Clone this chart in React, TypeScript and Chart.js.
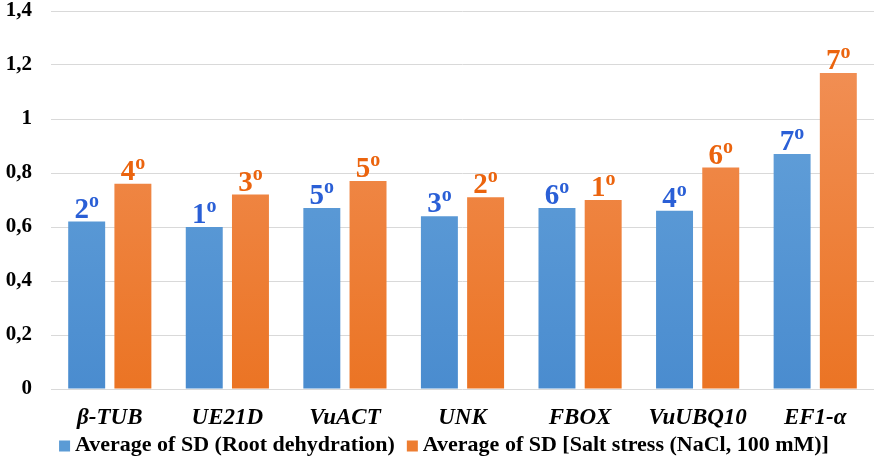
import React, { useEffect, useRef } from "react";
import { Chart, registerables } from "chart.js";

Chart.register(...registerables);

const categories = ["β-TUB", "UE21D", "VuACT", "UNK", "FBOX", "VuUBQ10", "EF1-α"];
const rootDehydration = [0.62, 0.6, 0.67, 0.64, 0.67, 0.66, 0.87];
const saltStress = [0.76, 0.72, 0.77, 0.71, 0.7, 0.82, 1.17];
const rootRanks = ["2", "1", "5", "3", "6", "4", "7"];
const saltRanks = ["4", "3", "5", "2", "1", "6", "7"];
const seriesNames = [
  "Average of SD (Root dehydration)",
  "Average of SD [Salt stress (NaCl, 100 mM)]",
];
const seriesColors = ["#5b9bd5", "#ed7d31"];
const rankColors = ["#2a5fd6", "#eb640e"];

const FONT = "'Liberation Serif', 'Times New Roman', serif";

const rankLabelPlugin = {
  id: "rankLabels",
  afterDatasetsDraw(chart: any) {
    const ctx = chart.ctx;
    const rankSets = [rootRanks, saltRanks];
    chart.data.datasets.forEach((_ds: any, di: number) => {
      const meta = chart.getDatasetMeta(di);
      meta.data.forEach((bar: any, i: number) => {
        const digit = rankSets[di][i];
        ctx.save();
        ctx.fillStyle = rankColors[di];
        ctx.textBaseline = "alphabetic";
        ctx.font = `bold 29px ${FONT}`;
        const dw = ctx.measureText(digit).width;
        ctx.font = `bold 20px ${FONT}`;
        const ow = ctx.measureText("o").width;
        const total = dw + ow;
        const x0 = bar.x - total / 2;
        const base = bar.y - 4;
        ctx.font = `bold 29px ${FONT}`;
        ctx.textAlign = "left";
        ctx.fillText(digit, x0, base);
        ctx.font = `bold 20px ${FONT}`;
        ctx.fillText("o", x0 + dw, base - 11);
        ctx.restore();
      });
    });
  },
};

const legendPlugin = {
  id: "customLegend",
  afterDraw(chart: any) {
    const ctx = chart.ctx;
    ctx.save();
    ctx.font = `bold 22px ${FONT}`;
    const box = 11;
    const gap = 5;
    const itemGap = 12;
    const widths = seriesNames.map((t) => ctx.measureText(t).width);
    const total = widths.reduce((a, w) => a + box + gap + w, 0) + itemGap * (seriesNames.length - 1);
    let x = chart.width / 2 + 7 - total / 2;
    const y = 445;
    ctx.textBaseline = "middle";
    ctx.textAlign = "left";
    seriesNames.forEach((t, i) => {
      ctx.fillStyle = seriesColors[i];
      ctx.fillRect(x, y - box / 2 + 1, box, box);
      x += box + gap;
      ctx.fillStyle = "#000";
      ctx.fillText(t, x, y);
      x += widths[i] + itemGap;
    });
    ctx.restore();
  },
};

function gradient(ctx: any, top: string, bottom: string) {
  const chart = ctx.chart;
  const area = chart.chartArea;
  if (!area) return bottom;
  const g = chart.ctx.createLinearGradient(0, area.top, 0, area.bottom);
  g.addColorStop(0, top);
  g.addColorStop(1, bottom);
  return g;
}

export default function App() {
  const ref = useRef<HTMLCanvasElement | null>(null);
  useEffect(() => {
    document.body.style.margin = "0";
    const canvas = ref.current!;
    const chart = new Chart(canvas, {
      type: "bar",
      data: {
        labels: categories,
        datasets: [
          {
            label: seriesNames[0],
            data: rootDehydration,
            backgroundColor: (c: any) => gradient(c, "#6aa6dc", "#4a8ccf"),
            borderWidth: 0,
          },
          {
            label: seriesNames[1],
            data: saltStress,
            backgroundColor: (c: any) => gradient(c, "#f2935c", "#eb7424"),
            borderWidth: 0,
          },
        ],
      },
      options: {
        animation: false,
        responsive: false,
        maintainAspectRatio: false,
        layout: { autoPadding: false, padding: { left: 4, right: 0, top: 0, bottom: 32 } },
        datasets: {
          bar: { categoryPercentage: 0.786, barPercentage: 0.8 },
        },
        plugins: {
          legend: { display: false },
          tooltip: { enabled: false },
        },
        scales: {
          x: {
            grid: { display: false, drawTicks: false },
            border: { display: false },
            afterFit: (s: any) => {
              s.height = 44;
              s.paddingLeft = 0;
              s.paddingRight = 0;
            },
            ticks: {
              color: "#000",
              padding: 15,
              font: { family: FONT, size: 23, weight: "bold", style: "italic" },
            },
          },
          y: {
            min: 0,
            max: 1.4,
            border: { display: false },
            grid: { color: "#d9d9d9", lineWidth: 1, drawTicks: false },
            afterFit: (s: any) => {
              s.width = 47;
              s.paddingTop = 11;
              s.paddingBottom = 0;
            },
            ticks: {
              stepSize: 0.2,
              color: "#000",
              padding: 19,
              font: { family: FONT, size: 21, weight: "bold" },
              callback: (v: any) => {
                const n = Number(v);
                if (Math.abs(n - Math.round(n)) < 1e-9) return String(Math.round(n));
                return n.toFixed(1).replace(".", ",");
              },
            },
          },
        },
      },
      plugins: [rankLabelPlugin, legendPlugin],
    } as any);
    return () => chart.destroy();
  }, []);
  return <canvas ref={ref} width={874} height={465} style={{ display: "block" }} />;
}
